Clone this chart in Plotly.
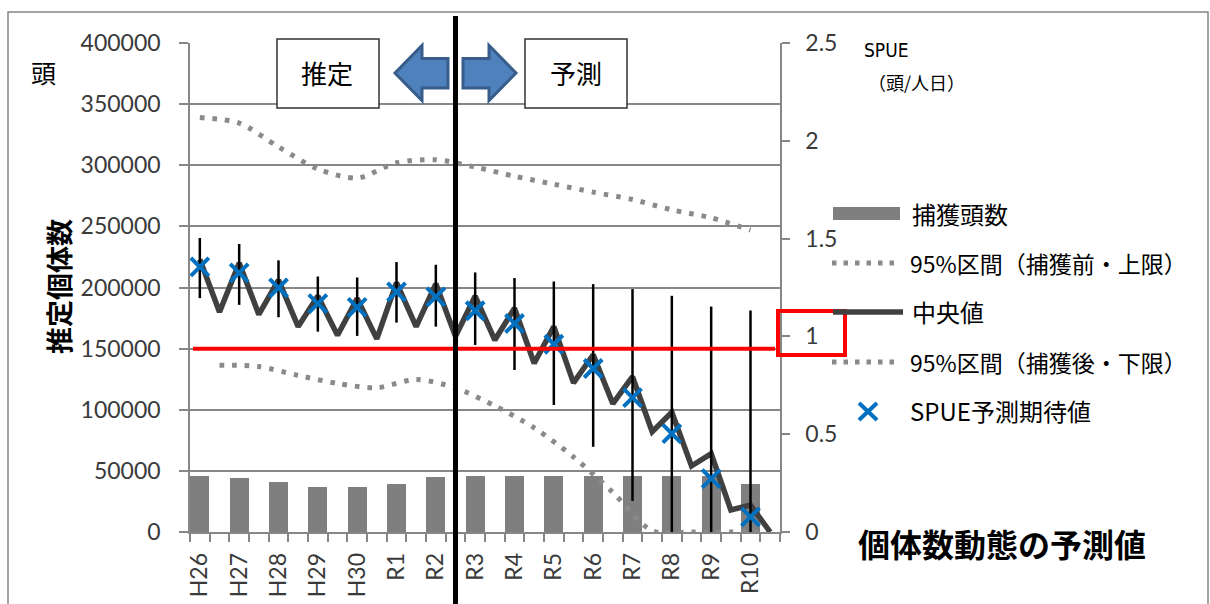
import plotly.graph_objects as go

# ---- data -------------------------------------------------------------
years = ["H26", "H27", "H28", "H29", "H30", "R1", "R2", "R3",
         "R4", "R5", "R6", "R7", "R8", "R9", "R10"]

# capture count per year (head)
catch = [46000, 44000, 40500, 36500, 36500, 39500, 44800, 46000,
         46000, 46000, 46000, 46000, 46000, 46000, 39300]

# median population, two points per year: before capture / after capture
median = [223000, 180000, 220000, 178000, 206000, 168000, 193000, 161000,
          191000, 158000, 204000, 168000, 203000, 160000, 193000, 157000,
          183000, 138000, 168000, 122000, 145000, 105000, 127000, 82000,
          98000, 54000, 64000, 18000, 22000, 0]

# 95% interval upper bound (before capture)
upper_pre = [339000, 334500, 315000, 297000, 289500, 302000, 304500, 298500,
             291000, 284500, 278000, 272000, 263500, 257000, 247000]

# 95% interval lower bound (after capture)
lower_post = [136500, 135300, 128100, 121500, 118000, 124800, 117800, 103200,
              85200, 61400, 32400, 1000, 0, 0, 0]

# error bar ends around the before-capture median
err_hi = [240500, 235600, 222200, 209000, 208200, 220800, 218600, 212300,
          207700, 204900, 202800, 198700, 193200, 184400, 181200]
err_lo = [191300, 185800, 175700, 163900, 160400, 171300, 168000, 153000,
          132500, 103900, 69700, 25400, 0, 0, 0]

# expected SPUE (head / person-day)
spue = [1.355, 1.325, 1.248, 1.168, 1.148, 1.228, 1.202, 1.131,
        1.066, 0.96, 0.836, 0.687, 0.503, 0.273, 0.077]

threshold = 150000

# ---- positions --------------------------------------------------------
n_slots = len(median)
pre_x = list(range(0, n_slots, 2))      # before-capture slots
post_x = list(range(1, n_slots, 2))     # after-capture slots
all_x = list(range(n_slots))
med_pre = [median[i] for i in pre_x]

W, H = 1210, 604
L, R, T, B = 190, 780, 43, 532


def PX(x):
    return (x - L) / (R - L)


def PY(y):
    return (B - y) / (B - T)


GRID = "#878787"
DOT = "#8a8a8a"
TXT = "#3a3a3a"
NUMFONT = "Lato, Noto Sans CJK JP, sans-serif"
JPFONT = "Noto Sans CJK JP, sans-serif"

fig = go.Figure()

fig.add_trace(go.Bar(
    x=pre_x, y=catch, width=0.97, marker=dict(color="#7f7f7f", line=dict(width=0)),
    name="捕獲頭数", showlegend=False))

fig.add_trace(go.Scatter(
    x=pre_x, y=upper_pre, mode="lines",
    line=dict(color=DOT, width=5, dash="4.5px,8px", shape="spline", smoothing=0.8),
    name="95%区間（捕獲前・上限）", showlegend=False))

fig.add_trace(go.Scatter(
    x=post_x, y=lower_post, mode="lines",
    line=dict(color=DOT, width=5, dash="4.5px,8px", shape="spline", smoothing=0.8),
    name="95%区間（捕獲後・下限）", showlegend=False))

fig.add_trace(go.Scatter(
    x=all_x, y=median, mode="lines",
    line=dict(color="#404040", width=5.5),
    name="中央値", showlegend=False))

fig.add_trace(go.Scatter(
    x=pre_x, y=med_pre, mode="markers",
    marker=dict(size=1, color="rgba(0,0,0,0)"),
    error_y=dict(type="data", symmetric=False,
                 array=[h - m for h, m in zip(err_hi, med_pre)],
                 arrayminus=[m - l for m, l in zip(med_pre, err_lo)],
                 color="black", thickness=2.5, width=0),
    showlegend=False, hoverinfo="skip"))

fig.add_trace(go.Scatter(
    x=pre_x, y=spue, mode="markers", yaxis="y2",
    marker=dict(symbol="x-thin", size=18, color="#0070C0",
                line=dict(color="#0070C0", width=4)),
    name="SPUE予測期待値", showlegend=False))

# ---- shapes -----------------------------------------------------------
shapes = []
# outer frame
shapes.append(dict(type="rect", xref="paper", yref="paper",
                   x0=PX(8), x1=PX(1208), y0=PY(640), y1=PY(12),
                   line=dict(color=GRID, width=1.5), layer="below"))
# threshold line
shapes.append(dict(type="line", xref="paper", yref="y",
                   x0=PX(193), x1=PX(775), y0=threshold, y1=threshold,
                   line=dict(color="#ff0000", width=4), layer="above"))
# box around SPUE 1
shapes.append(dict(type="rect", xref="paper", yref="paper",
                   x0=PX(778), x1=PX(845), y0=PY(355), y1=PY(311),
                   line=dict(color="#ff0000", width=4), layer="above"))
# estimate / forecast boundary
shapes.append(dict(type="line", xref="x", yref="paper",
                   x0=13, x1=13, y0=PY(620), y1=PY(16),
                   line=dict(color="black", width=5), layer="above"))
# label boxes
for x0, x1 in [(277, 379), (525, 627)]:
    shapes.append(dict(type="rect", xref="paper", yref="paper",
                       x0=PX(x0), x1=PX(x1), y0=PY(108), y1=PY(39),
                       fillcolor="white", line=dict(color="#333333", width=1.5),
                       layer="above"))


def path(pts):
    s = "M " + " L ".join(f"{PX(x):.5f},{PY(y):.5f}" for x, y in pts) + " Z"
    return s


left_arrow = [(395, 73), (422, 45.5), (422, 58.5), (448, 58.5),
              (448, 88), (422, 88), (422, 100.5)]
right_arrow = [(463, 58.5), (489, 58.5), (489, 45.5), (516, 73),
               (489, 100.5), (489, 88), (463, 88)]
for pts in (left_arrow, right_arrow):
    shapes.append(dict(type="path", xref="paper", yref="paper", path=path(pts),
                       fillcolor="#4F81BD", line=dict(color="#385D8A", width=3),
                       layer="above"))

# legend swatches
shapes.append(dict(type="rect", xref="paper", yref="paper",
                   x0=PX(833), x1=PX(900), y0=PY(220), y1=PY(207),
                   fillcolor="#7f7f7f", line=dict(width=0)))
for yy in (263, 362):
    shapes.append(dict(type="line", xref="paper", yref="paper",
                       x0=PX(832), x1=PX(900), y0=PY(yy), y1=PY(yy),
                       line=dict(color=DOT, width=5, dash="4.5px,7px")))
shapes.append(dict(type="line", xref="paper", yref="paper",
                   x0=PX(833), x1=PX(903), y0=PY(312), y1=PY(312),
                   line=dict(color="#404040", width=5.5)))
for (xa, ya, xb, yb) in [(859, 403, 877, 420), (859, 420, 877, 403)]:
    shapes.append(dict(type="line", xref="paper", yref="paper",
                       x0=PX(xa), x1=PX(xb), y0=PY(ya), y1=PY(yb),
                       line=dict(color="#0070C0", width=4)))

# ---- text -------------------------------------------------------------
ann = []


def text(s, x, y, size, xanchor="left", family=JPFONT, color="black", angle=0):
    ann.append(dict(text=s, x=PX(x), y=PY(y), xref="paper", yref="paper",
                    xanchor=xanchor, yanchor="middle", showarrow=False,
                    textangle=angle, font=dict(size=size, family=family, color=color)))


text("頭", 43, 72, 25, xanchor="center")
text("<b>推定個体数</b>", 58, 287, 27, xanchor="center", angle=-90)
text("推定", 327, 73, 26, xanchor="center")
text("予測", 576, 73, 26, xanchor="center")
text("SPUE", 862, 50, 19, family="DejaVu Sans Condensed, Liberation Sans Narrow, sans-serif")
text("（頭/人日）", 866, 82, 18)
text("捕獲頭数", 910, 213, 24)
text("95%区間（捕獲前・上限）", 908, 263, 23)
text("中央値", 910, 311, 24)
text("95%区間（捕獲後・下限）", 908, 362, 23)
text("SPUE予測期待値", 908, 410, 24)
text("<b>個体数動態の予測値</b>", 1002, 543, 32, xanchor="center")

fig.update_layout(
    width=W, height=H,
    margin=dict(l=L, r=W - R, t=T, b=H - B, autoexpand=False),
    paper_bgcolor="white", plot_bgcolor="white",
    showlegend=False, bargap=0,
    shapes=shapes, annotations=ann,
    xaxis=dict(
        automargin=False,
        range=[-0.5, n_slots - 0.5],
        tickmode="array", tickvals=pre_x, ticktext=years,
        ticks="", tickangle=-90, ticklabelstandoff=10,
        tickfont=dict(size=23, family=NUMFONT, color=TXT),
        showline=True, linecolor=GRID, linewidth=1.5,
        showgrid=False, zeroline=False,
        minor=dict(ticks="outside", tickmode="linear", tick0=-0.5, dtick=1,
                   ticklen=8, tickcolor=GRID, tickwidth=1.5, showgrid=False),
    ),
    yaxis=dict(
        automargin=False,
        range=[0, 400000], tickmode="linear", tick0=0, dtick=50000,
        tickformat="d",
        ticks="outside", ticklen=9, tickcolor=GRID, tickwidth=1.5,
        ticklabelstandoff=14,
        tickfont=dict(size=23, family=NUMFONT, color=TXT),
        showgrid=True, gridcolor=GRID, gridwidth=1.5,
        showline=True, linecolor=GRID, linewidth=1.5, zeroline=False,
    ),
    yaxis2=dict(
        automargin=False,
        overlaying="y", side="right", range=[0, 2.5],
        tickmode="array", tickvals=[0, 0.5, 1, 1.5, 2, 2.5],
        ticktext=["0", "0.5", "1", "1.5", "2", "2.5"],
        ticks="outside", ticklen=8, tickcolor=GRID, tickwidth=1.5,
        ticklabelstandoff=11,
        tickfont=dict(size=23, family=NUMFONT, color=TXT),
        showgrid=False, showline=True, linecolor=GRID, linewidth=1.5,
        zeroline=False,
    ),
)

fig.write_html("out.html")
